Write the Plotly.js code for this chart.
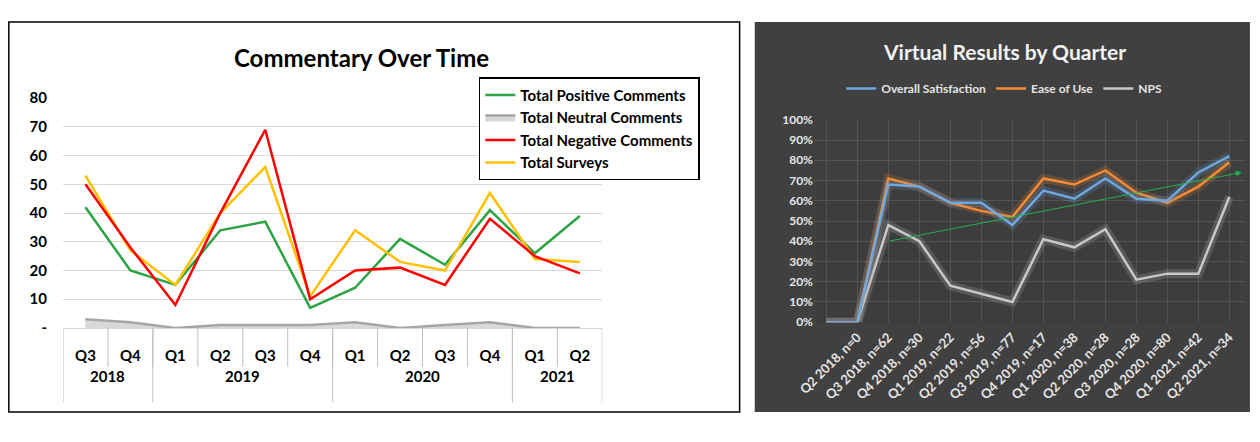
<!DOCTYPE html>
<html>
<head>
<script src="https://cdn.plot.ly/plotly-3.0.1.min.js"></script>
<style>body{margin:0;background:#fff}</style>
</head>
<body>
<div id="chart" style="width:1260px;height:442px"></div>
<script>
// left chart: commentary counts
const quarters = ['Q3', 'Q4', 'Q1', 'Q2', 'Q3', 'Q4', 'Q1', 'Q2', 'Q3', 'Q4', 'Q1', 'Q2'];
const yearNames = ['2018', '2019', '2020', '2021'];
const yearCounts = [2, 4, 4, 2];
const positive = [42, 20, 15, 34, 37, 7, 14, 31, 22, 41, 26, 39];
const neutral = [3, 2, 0, 1, 1, 1, 2, 0, 1, 2, 0, 0];
const negative = [50, 28, 8, 40, 69, 10, 20, 21, 15, 38, 25, 19];
const surveys = [53, 27, 15, 40, 56, 11, 34, 23, 20, 47, 24, 23];

// right chart: virtual results
const periods = [' ', 'Q2 2018, n=0', 'Q3 2018, n=62', 'Q4 2018, n=30', 'Q1 2019, n=22', 'Q2 2019, n=56',
    'Q3 2019, n=77', 'Q4 2019, n=17', 'Q1 2020, n=38', 'Q2 2020, n=28', 'Q3 2020, n=28',
    'Q4 2020, n=80', 'Q1 2021, n=42', 'Q2 2021, n=34'];
const satisfaction = [0, 0, 68, 67, 59, 59, 48, 65, 61, 71, 61, 60, 74, 82];
const easeOfUse = [0, 0, 71, 67, 59, 55, 52, 71, 68, 75, 64, 59, 67, 79];
const nps = [0, 0, 48, 40, 18, 14, 10, 41, 37, 46, 21, 24, 24, 62];
const trendFrom = [2, 40];
const trendTo = [13.4, 74];

const font = 'Lato, "Open Sans", sans-serif';
const idx = quarters.map((q, i) => i);

function glow(y, color, name) {
    return [
        {x: periods, y: y, xaxis: 'x2', yaxis: 'y2', mode: 'lines', showlegend: false, hoverinfo: 'skip',
            line: {color: color, width: 9}, opacity: 0.18},
        {x: periods, y: y, xaxis: 'x2', yaxis: 'y2', mode: 'lines', name: name, legend: 'legend2',
            line: {color: color, width: 2.5}}
    ];
}

const npsT = glow(nps, '#c8c8c8', 'NPS');
const easeT = glow(easeOfUse, '#f58a33', 'Ease of Use');
const satT = glow(satisfaction, '#6fa8e0', 'Overall Satisfaction');
npsT[1].legendrank = 3; easeT[1].legendrank = 2; satT[1].legendrank = 1;

const data = [
    {x: idx, y: neutral, mode: 'lines', name: 'Total Neutral Comments', fill: 'tozeroy',
        fillcolor: 'rgba(190,190,190,0.6)', line: {color: '#a6a6a6', width: 2.5}, legendrank: 2},
    {x: idx, y: positive, mode: 'lines', name: 'Total Positive Comments',
        line: {color: '#2ca444', width: 2.5}, legendrank: 1},
    {x: idx, y: surveys, mode: 'lines', name: 'Total Surveys',
        line: {color: '#ffc000', width: 2.5}, legendrank: 4},
    {x: idx, y: negative, mode: 'lines', name: 'Total Negative Comments',
        line: {color: '#ff0000', width: 2.5}, legendrank: 3},
    ...npsT, ...easeT, ...satT
];

// year labels and dividers under the left axis
const shapes = [
    {type: 'rect', xref: 'paper', yref: 'paper', x0: 0.007, x1: 0.587, y0: 0.068, y1: 0.95,
        line: {color: '#000', width: 1.5}, fillcolor: '#fff', layer: 'below'},
    {type: 'rect', xref: 'paper', yref: 'paper', x0: 0.599, x1: 0.992, y0: 0.068, y1: 0.95,
        line: {width: 0}, fillcolor: '#404040', layer: 'below'}
];
const annotations = [
    {text: '<b>Commentary Over Time</b>', xref: 'paper', yref: 'paper', x: 0.287, y: 0.87,
        xanchor: 'center', yanchor: 'middle', showarrow: false, font: {size: 24, family: font}},
    {text: '<b>Virtual Results by Quarter</b>', xref: 'paper', yref: 'paper', x: 0.797, y: 0.883,
        xanchor: 'center', yanchor: 'middle', showarrow: false, font: {size: 21, family: font, color: '#f2f2f2'}},
    {xref: 'x2', yref: 'y2', axref: 'x2', ayref: 'y2', x: trendTo[0], y: trendTo[1],
        ax: trendFrom[0], ay: trendFrom[1], text: '', showarrow: true, arrowhead: 2,
        arrowsize: 1.2, arrowwidth: 1, arrowcolor: '#22b14c'}
];
let start = -0.5;
yearNames.forEach((y, k) => {
    const end = start + yearCounts[k];
    annotations.push({text: '<b>' + y + '</b>', xref: 'x', yref: 'paper', x: (start + end) / 2, y: 0.125,
        showarrow: false, font: {size: 15, family: font}});
    shapes.push({type: 'line', xref: 'x', yref: 'paper', x0: start, x1: start, y0: 0.258, y1: 0.09,
        line: {color: '#bfbfbf', width: 1}});
    start = end;
});
shapes.push({type: 'line', xref: 'x', yref: 'paper', x0: start, x1: start, y0: 0.258, y1: 0.09,
    line: {color: '#bfbfbf', width: 1}});
idx.slice(1).forEach(i => {
    shapes.push({type: 'line', xref: 'x', yref: 'paper', x0: i - 0.5, x1: i - 0.5, y0: 0.258, y1: 0.17,
        line: {color: '#bfbfbf', width: 1}});
});

const layout = {
    width: 1260, height: 442,
    margin: {l: 0, r: 0, t: 0, b: 0},
    paper_bgcolor: '#ffffff',
    plot_bgcolor: 'rgba(0,0,0,0)',
    font: {family: font, color: '#000'},
    showlegend: true,
    shapes: shapes,
    annotations: annotations,
    xaxis: {domain: [0.05, 0.478], anchor: 'y', range: [-0.5, 11.5], tickvals: idx,
        ticktext: quarters.map(q => '<b>' + q + '</b>'), showgrid: false, zeroline: false,
        tickfont: {size: 15, family: font}, ticks: '', ticklabelstandoff: 14,
        linecolor: '#d9d9d9', showline: true},
    yaxis: {domain: [0.258, 0.778], anchor: 'x', range: [0, 80], tickvals: [0, 10, 20, 30, 40, 50, 60, 70, 80],
        ticktext: ['-', '10', '20', '30', '40', '50', '60', '70', '80'].map(t => '<b>' + t + '</b>'),
        gridcolor: '#d9d9d9', tickfont: {size: 15, family: font}, zeroline: false,
        ticklen: 12, tickcolor: 'rgba(0,0,0,0)', ticks: 'outside'},
    xaxis2: {domain: [0.646, 0.988], anchor: 'y2', type: 'category', tickangle: -45,
        showgrid: true, gridcolor: '#555', tickfont: {size: 13, family: font, color: '#e6e6e6', weight: 'bold'},
        range: [-0.4, 13.5], ticklabelstandoff: 4},
    yaxis2: {domain: [0.271, 0.729], anchor: 'x2', range: [0, 100], dtick: 10, ticksuffix: '%',
        gridcolor: '#555', zeroline: false, tickfont: {size: 12, family: font, color: '#e6e6e6', weight: 'bold'}},
    legend: {x: 0.38, y: 0.825, xanchor: 'left', yanchor: 'top', bgcolor: '#fff',
        bordercolor: '#000', borderwidth: 1.5, font: {size: 15, family: font, weight: 'bold'},
        tracegroupgap: 0, traceorder: 'normal'},
    legend2: {x: 0.797, y: 0.8, xanchor: 'center', yanchor: 'middle', orientation: 'h',
        bgcolor: 'rgba(0,0,0,0)', font: {size: 12, family: font, color: '#e6e6e6', weight: 'bold'},
        traceorder: 'normal'}
};

Plotly.newPlot('chart', data, layout, {displayModeBar: false});
</script>
</body>
</html>
